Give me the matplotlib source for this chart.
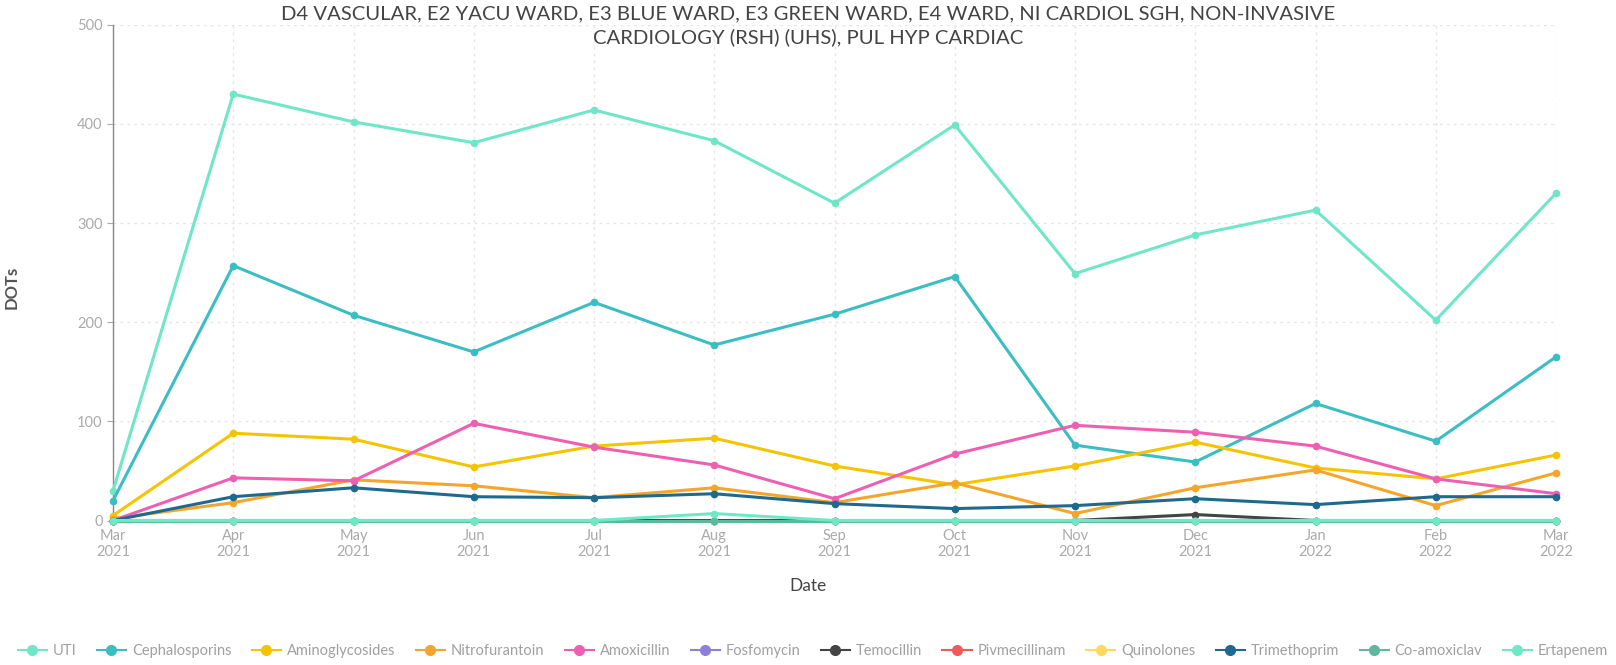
import matplotlib
matplotlib.use("Agg")
import matplotlib.pyplot as plt
from matplotlib.lines import Line2D

months = ["Mar\n2021", "Apr\n2021", "May\n2021", "Jun\n2021", "Jul\n2021", "Aug\n2021",
          "Sep\n2021", "Oct\n2021", "Nov\n2021", "Dec\n2021", "Jan\n2022", "Feb\n2022", "Mar\n2022"]

uti = [30, 430, 402, 381, 414, 383, 320, 399, 249, 288, 313, 202, 330]
cephalosporins = [20, 257, 207, 170, 220, 177, 208, 246, 76, 59, 118, 80, 165]
aminoglycosides = [5, 88, 82, 54, 75, 83, 55, 36, 55, 79, 53, 42, 66]
nitrofurantoin = [2, 18, 41, 35, 23, 33, 18, 38, 7, 33, 51, 15, 48]
amoxicillin = [0, 43, 40, 98, 74, 56, 22, 67, 96, 89, 75, 42, 27]
fosfomycin = [0, 0, 0, 0, 0, 0, 0, 0, 0, 0, 0, 0, 0]
temocillin = [0, 0, 0, 0, 0, 0, 0, 0, 0, 6, 0, 0, 0]
pivmecillinam = [0, 0, 0, 0, 0, 0, 0, 0, 0, 0, 0, 0, 0]
quinolones = [0, 0, 0, 0, 0, 0, 0, 0, 0, 0, 0, 0, 0]
trimethoprim = [0, 24, 33, 24, 23, 27, 17, 12, 15, 22, 16, 24, 24]
co_amoxiclav = [0, 0, 0, 0, 0, 0, 0, 0, 0, 0, 0, 0, 0]
ertapenem = [0, 0, 0, 0, 0, 7, 0, 0, 0, 0, 0, 0, 0]

series_names = ["UTI", "Cephalosporins", "Aminoglycosides", "Nitrofurantoin", "Amoxicillin",
                "Fosfomycin", "Temocillin", "Pivmecillinam", "Quinolones", "Trimethoprim",
                "Co-amoxiclav", "Ertapenem"]
series_values = [uti, cephalosporins, aminoglycosides, nitrofurantoin, amoxicillin, fosfomycin,
                 temocillin, pivmecillinam, quinolones, trimethoprim, co_amoxiclav, ertapenem]
colors = ["#6fe6c8", "#3bbdc4", "#f5c400", "#f5a52a", "#ee5fb2", "#8d80dc",
          "#444444", "#f05a5a", "#ffd95e", "#1d6a8e", "#5db89f", "#6ee9c6"]

title = ("D4 VASCULAR, E2 YACU WARD, E3 BLUE WARD, E3 GREEN WARD, E4 WARD, NI CARDIOL SGH, NON-INVASIVE\n"
         "CARDIOLOGY (RSH) (UHS), PUL HYP CARDIAC")

plt.rcParams['font.family'] = ['Lato', 'DejaVu Sans']

W, H = 1616, 665
fig = plt.figure(figsize=(W / 100, H / 100), dpi=100)
ax = fig.add_axes([113 / W, 1 - 520.5 / H, (1556 - 113) / W, (520.5 - 24.7) / H])

x = list(range(len(months)))
for name, vals, c in zip(series_names, series_values, colors):
    ax.plot(x, vals, color=c, lw=2.2, marker='o', ms=4.5, label=name, clip_on=False, zorder=3)

ax.set_xlim(0, len(months) - 1)
ax.set_ylim(0, 500)
ax.set_yticks([0, 100, 200, 300, 400, 500])
ax.set_xticks(x)
ax.set_xticklabels(months)
ax.tick_params(axis='both', colors='#aaaaaa', labelcolor='#aaaaaa', labelsize=10.5, length=4)
ax.tick_params(axis='x', length=0, pad=6)
for s in ['top', 'right', 'bottom']:
    ax.spines[s].set_visible(False)
ax.spines['left'].set_color('#888888')
ax.spines['left'].set_linewidth(1)
ax.grid(True, color='#e6e6e6', linestyle=(0, (2, 3)), linewidth=1)
ax.set_axisbelow(True)

ax.set_ylabel("DOTs", color='#555555', fontsize=12, fontweight='bold', labelpad=40)
ax.yaxis.set_label_coords(-0.065, 0.47)
ax.set_xlabel("Date", color='#444444', fontsize=12.5)
ax.xaxis.set_label_coords((808 - 113) / (1556 - 113), -0.115)

fig.text(0.5, 1 - 26 / H, title, ha='center', va='center', fontsize=14.6, color='#444444',
         linespacing=1.4)

handles = [Line2D([0], [0], color=c, lw=1.5, marker='o', ms=7) for c in colors]
leg = fig.legend(handles, series_names, loc='center', bbox_to_anchor=(0.503, 1 - 651 / H),
                 ncol=12, frameon=False, fontsize=10.5, handlelength=2.0, columnspacing=1.4,
                 handletextpad=0.4)
for t in leg.get_texts():
    t.set_color('#a0a0a0')

fig.savefig("out.png", dpi=100)
